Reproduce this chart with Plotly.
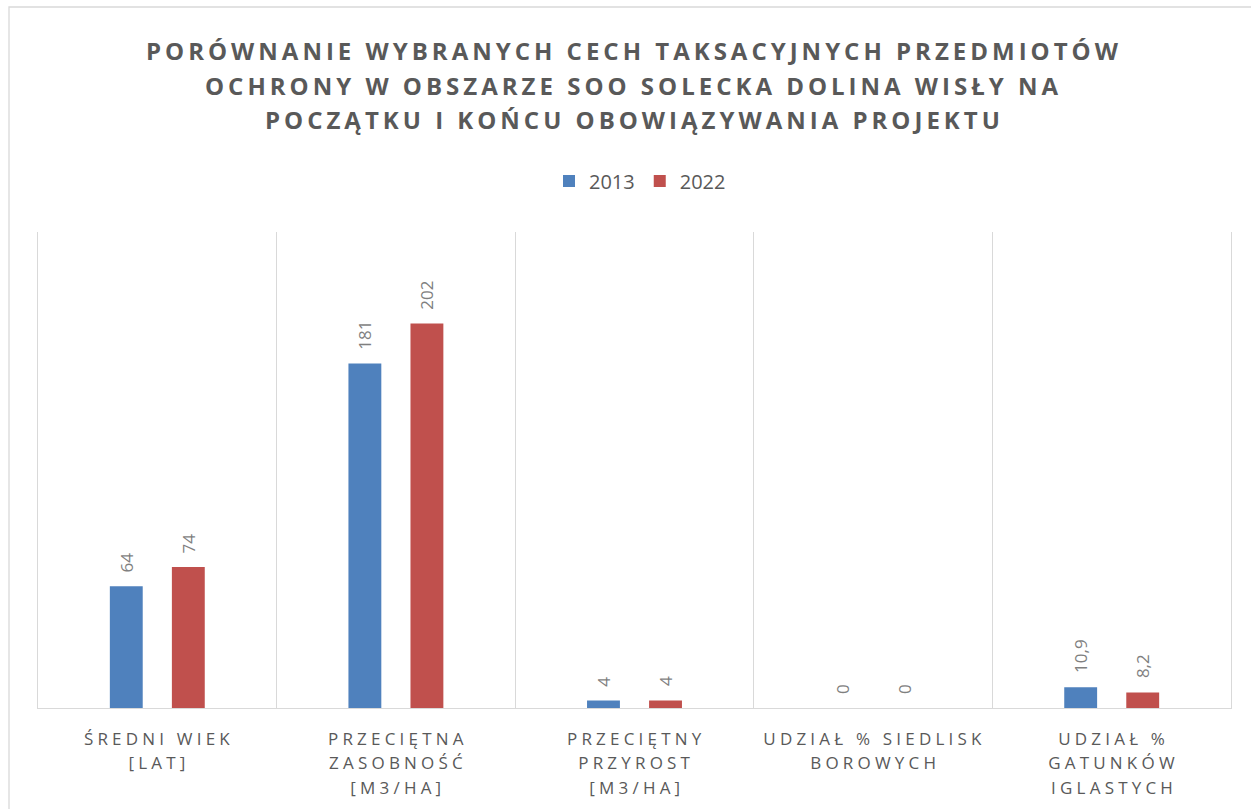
import json
import plotly.graph_objects as go

# Forest stand characteristics, start vs end of the plan
categories = [
    "ŚREDNI WIEK<br>[LAT]",
    "PRZECIĘTNA<br>ZASOBNOŚĆ<br>[M3/HA]",
    "PRZECIĘTNY<br>PRZYROST<br>[M3/HA]",
    "UDZIAŁ % SIEDLISK<br>BOROWYCH",
    "UDZIAŁ %<br>GATUNKÓW<br>IGLASTYCH",
]
series_names = ["2013", "2022"]
values_2013 = [64, 181, 4, 0, 10.9]
values_2022 = [74, 202, 4, 0, 8.2]
series_colors = ["#4F81BD", "#C0504D"]

title_lines = [
    "PORÓWNANIE WYBRANYCH CECH TAKSACYJNYCH PRZEDMIOTÓW",
    "OCHRONY W OBSZARZE SOO SOLECKA DOLINA WISŁY NA",
    "POCZĄTKU I KOŃCU OBOWIĄZYWANIA PROJEKTU",
]

# Page / plot geometry (pixels)
W, H = 1251, 809
ML, MR, MT, MB = 38, 20, 232, 101
plot_w = W - ML - MR
plot_h = H - MT - MB
BASE_Y = H - MB
BARGAP = 0.48
BARGROUPGAP = 0.47
slot = (1 - BARGAP) / 2
cat_px = plot_w / len(categories)
label_dx = slot / 2 * cat_px

GRID = "#D9D9D9"
TEXT = "#595959"
LABEL = "#7F7F7F"
FONT = "Open Sans"

TITLE_SIZE, TITLE_LS = 24, 4.0
TITLE_CX = 632
TITLE_Y = [50, 85, 120]
TICK_SIZE, TICK_LS = 17, 4.2
TICK_Y0, TICK_STEP = 30, 24.5


def fmt(v):
    return f"{v:g}".replace(".", ",")


def px_x(px):
    return (px - ML) / plot_w


def px_y(py):
    return (BASE_Y - py) / plot_h


fig = go.Figure()
all_values = [values_2013, values_2022]
for name, vals, col in zip(series_names, all_values, series_colors):
    fig.add_trace(go.Bar(
        x=categories, y=vals, name=name,
        marker=dict(color=col, line=dict(width=0)),
        hoverinfo="y+name",
    ))

annotations = []
letter_spacing = []

# chart title, one annotation per line
for line, yc in zip(title_lines, TITLE_Y):
    annotations.append(dict(
        x=px_x(TITLE_CX), y=px_y(yc), xref="paper", yref="paper",
        text=line, showarrow=False, xanchor="center", yanchor="middle",
        xshift=TITLE_LS / 2,
        font=dict(family=FONT, size=TITLE_SIZE, color=TEXT, weight="bold"),
    ))
    letter_spacing.append(TITLE_LS)

# category labels under the axis
for cat in categories:
    for i, line in enumerate(cat.split("<br>")):
        annotations.append(dict(
            x=cat, y=0, xref="x", yref="paper",
            text=line, showarrow=False, xanchor="center", yanchor="middle",
            xshift=TICK_LS / 2, yshift=-(TICK_Y0 + TICK_STEP * i),
            font=dict(family=FONT, size=TICK_SIZE, color=TEXT),
        ))
        letter_spacing.append(TICK_LS)

# value labels above the bars
for vals, sign in zip(all_values, [-1, 1]):
    for cat, v in zip(categories, vals):
        annotations.append(dict(
            x=cat, y=v, xref="x", yref="y",
            text=fmt(v), showarrow=False, textangle=-90,
            xanchor="center", yanchor="bottom",
            xshift=sign * label_dx, yshift=12,
            font=dict(family=FONT, size=17, color=LABEL),
        ))
        letter_spacing.append(0)

fig.update_layout(
    width=W, height=H,
    margin=dict(l=ML, r=MR, t=MT, b=MB, pad=0),
    paper_bgcolor="white", plot_bgcolor="white",
    barmode="group", bargap=BARGAP, bargroupgap=BARGROUPGAP,
    legend=dict(
        orientation="h", x=px_x(640), xanchor="center",
        y=px_y(181), yanchor="middle",
        font=dict(family=FONT, size=20, color=TEXT),
        itemwidth=30, bgcolor="rgba(0,0,0,0)",
    ),
    showlegend=True,
    annotations=annotations,
    xaxis=dict(
        type="category", tickson="boundaries", showgrid=True,
        gridcolor=GRID, gridwidth=1.3, ticks="", showticklabels=False,
        showline=True, linecolor=GRID, linewidth=1.3, fixedrange=True,
    ),
    yaxis=dict(
        range=[0, 250], showgrid=False, zeroline=False,
        showticklabels=False, ticks="",
        showline=True, mirror=True, linecolor=GRID, linewidth=1.3,
        fixedrange=True,
    ),
    shapes=[dict(
        type="rect", xref="paper", yref="paper",
        x0=px_x(9), x1=px_x(W + 20), y0=px_y(H + 20), y1=px_y(7),
        line=dict(color=GRID, width=1.3), fillcolor="rgba(0,0,0,0)",
        layer="below",
    )],
)

# widen the tracking of title and category labels
post_js = (
    "var gd = document.getElementById('{plot_id}');"
    "var ls = " + json.dumps(letter_spacing) + ";"
    "gd.querySelectorAll('.annotation').forEach(function (g) {"
    "  var v = ls[+g.getAttribute('data-index')];"
    "  if (v) { g.querySelectorAll('text').forEach(function (t) {"
    "    t.style.letterSpacing = v + 'px'; }); }"
    "});"
)

fig.write_html("out.html", post_script=post_js)
